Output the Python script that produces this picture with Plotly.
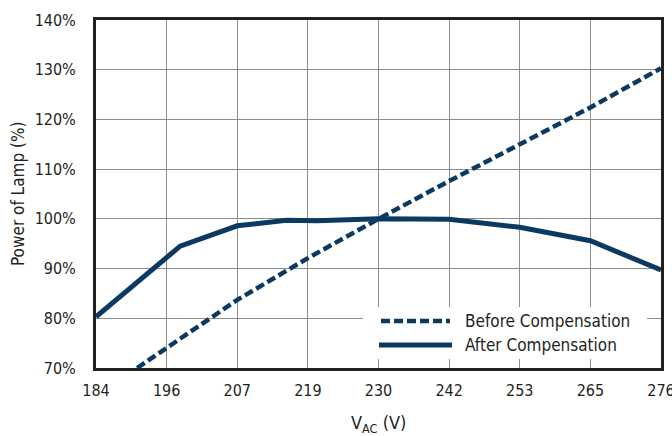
import plotly.graph_objects as go

# Data
x_ticks = [184, 196, 207, 219, 230, 242, 253, 265, 276]
tick_pos = [184, 195.5, 207, 218.5, 230, 241.5, 253, 264.5, 276]
y_ticks = [70, 80, 90, 100, 110, 120, 130, 140]
y_tick_labels = ["70%", "80%", "90%", "100%", "110%", "120%", "130%", "140%"]

before_v = [190.7, 195.5, 207, 218.5, 230, 241.5, 253, 264.5, 276]
before_p = [70.0, 74.0, 83.7, 92.1, 100.0, 107.6, 115.0, 122.4, 130.3]

after_v = [184, 197.7, 207, 215, 220, 230, 241.5, 253, 264.5, 276]
after_p = [80.3, 94.5, 98.6, 99.7, 99.6, 100.0, 99.9, 98.3, 95.6, 89.7]

series_names = ["Before Compensation", "After Compensation"]

navy = "#0a3a62"
text_col = "#231f20"
FONT = "DejaVu Sans Condensed, Liberation Sans Narrow, Roboto, sans-serif"

fig = go.Figure()
fig.add_trace(go.Scatter(x=before_v, y=before_p, mode="lines", name=series_names[0],
                         line=dict(color=navy, width=4.5, dash="9px,4px"), showlegend=False))
fig.add_trace(go.Scatter(x=after_v, y=after_p, mode="lines", name=series_names[1],
                         line=dict(color=navy, width=5), showlegend=False))

# manual legend (box + samples + labels) in paper coordinates
W, H = 672, 436
l, r, t, b = 96, 11, 20, 68
pw, ph = W - l - r, H - t - b
def px(xp): return (xp - l) / pw
def py(yp): return 1 - (yp - t) / ph

fig.add_shape(type="rect", xref="paper", yref="paper", x0=px(363), x1=px(647), y0=py(359), y1=py(307),
              fillcolor="white", line=dict(width=0), layer="above")
fig.add_shape(type="line", xref="paper", yref="paper", x0=px(381), x1=px(450), y0=py(321), y1=py(321),
              line=dict(color=navy, width=4.5, dash="9px,4px"), layer="above")
fig.add_shape(type="line", xref="paper", yref="paper", x0=px(379), x1=px(452), y0=py(345), y1=py(345),
              line=dict(color=navy, width=5), layer="above")
for name, yy in zip(series_names, [321, 345]):
    fig.add_annotation(xref="paper", yref="paper", x=px(463), y=py(yy), text=name, showarrow=False,
                       xanchor="left", yanchor="middle", font=dict(family=FONT, size=17, color=text_col))

# axis titles
fig.add_annotation(xref="paper", yref="paper", x=px(378), y=py(424), text="V<sub>AC</sub> (V)",
                   showarrow=False, xanchor="center", yanchor="middle",
                   font=dict(family=FONT, size=18, color=text_col))
fig.add_annotation(xref="paper", yref="paper", x=px(18), y=py(194), text="Power of Lamp (%)",
                   showarrow=False, xanchor="center", yanchor="middle", textangle=-90,
                   font=dict(family=FONT, size=17, color=text_col))

fig.update_layout(
    width=W, height=H,
    margin=dict(l=l, r=r, t=t, b=b, autoexpand=False),
    paper_bgcolor="white", plot_bgcolor="white",
    font=dict(family=FONT, size=16, color=text_col),
    xaxis=dict(range=[184, 276], tickvals=tick_pos, ticktext=[str(v) for v in x_ticks],
               showgrid=True, gridcolor="#8a8c8e", gridwidth=1.3,
               showline=True, linecolor="#231f20", linewidth=3, mirror=True,
               ticks="outside", ticklen=6, tickcolor="rgba(0,0,0,0)", zeroline=False,
               tickfont=dict(size=16), automargin=False, ticklabeloverflow="allow"),
    yaxis=dict(range=[70, 140], tickvals=y_ticks, ticktext=y_tick_labels,
               showgrid=True, gridcolor="#8a8c8e", gridwidth=1.3,
               showline=True, linecolor="#231f20", linewidth=3, mirror=True,
               ticks="outside", ticklen=14, tickcolor="rgba(0,0,0,0)", zeroline=False,
               tickfont=dict(size=16), automargin=False, ticklabeloverflow="allow"),
)

fig.write_html("out.html", config={"displayModeBar": False},
               post_script="document.body.style.margin='0';document.body.style.overflow='hidden';")
